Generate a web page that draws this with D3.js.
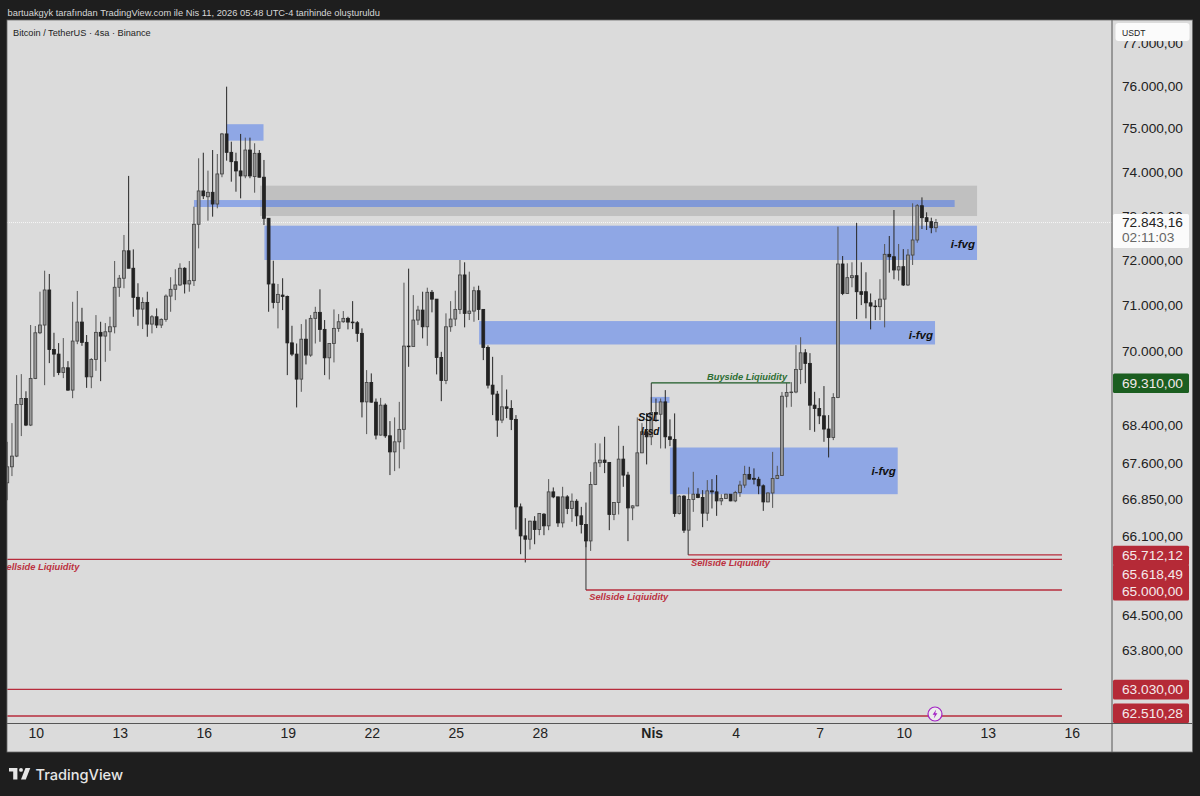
<!DOCTYPE html>
<html lang="tr">
<head>
<meta charset="utf-8">
<title>Bitcoin / TetherUS</title>
<script src="https://cdn.jsdelivr.net/npm/d3@7"></script>
<style>
  html, body { margin: 0; padding: 0; background: #1e1e1e; }
  svg { display: block; }
  text { font-family: "Liberation Sans", Arial, sans-serif; }
  .axis path, .axis line { display: none; }
</style>
</head>
<body>
<svg id="chart" width="1200" height="796"></svg>
<script>
// Four-hour BTC/USDT bars, oldest first; the first bar opens on 9 March 2026.
const firstBarTime = Date.UTC(2026, 2, 9);
const opens = [
  67197,67531,67755,68849,68976,68410,69407,70396,70565,71336,
  70033,69932,69536,69636,69156,70215,70630,70187,69441,69817,
  70405,70324,70418,70527,71396,71596,72208,71818,71174,70915,
  71062,70586,70746,70565,70689,71201,71351,71447,71818,71469,
  71543,72804,73560,73428,73529,73263,73949,74872,74446,74231,
  74018,73904,74499,73888,74423,73874,72939,71469,71062,71223,
  71194,70176,69932,69392,70256,69910,70711,70843,70470,69852,
  70163,70492,70637,70711,70630,70615,70383,68904,69320,68898,
  68198,68834,68183,67844,68056,68319,70106,70098,70674,70893,
  70527,71285,71134,69860,69364,70527,70696,70908,71669,70821,
  70871,71320,70908,70077,69262,69070,68516,68798,68764,68531,
  66697,66100,66032,66402,66231,66546,66306,67008,66904,66367,
  66904,66664,66814,66512,66334,65997,67163,67615,67671,67623,
  66540,66788,67692,67358,66676,66718,67824,68268,68162,68679,
  68640,68904,68162,68107,66561,66919,66217,66849,66960,66891,
  66567,67029,67008,66821,66870,66960,66821,66996,67149,67372,
  67290,67270,67134,66800,66985,67288,67351,69025,69104,69115,
  69601,69960,69731,68834,68764,68607,68326,68149,68997,71913,
  71259,71609,71653,71298,71298,71053,70981,70968,71134,72129,
  72075,71780,71853,71447,72113,72450,73224,72953,72863,72727
];
const highs = [
  68056,68452,69478,69500,69131,70566,70543,71298,71764,71691,
  70396,70171,70281,69780,71075,71314,70943,70347,69845,70783,
  70637,70608,70746,71980,71669,72563,73904,72240,71485,71174,
  71298,70783,70930,70711,71239,71618,71796,71929,71840,71980,
  73202,74309,74437,74025,74499,74407,74895,75977,74692,74437,
  74872,74786,74786,74655,74499,74270,72946,71986,71469,71596,
  71212,70549,70163,70586,70689,70783,70965,71351,70674,70171,
  70908,70805,70871,70746,71090,70652,70492,69586,69515,68976,
  68989,68870,68495,68573,68904,71498,71809,71223,70987,71298,
  71387,71336,71134,69981,70821,71090,71320,72002,71951,71742,
  71409,71431,70915,70121,69873,69139,69478,69169,68940,68622,
  66767,66464,66413,66505,66567,66567,67274,67100,66908,67113,
  66940,66975,66856,66697,66788,67426,68028,68022,68162,67629,
  66794,68395,67971,67426,66732,68573,68452,68664,69004,68976,
  68976,69156,68531,68658,66940,66940,67100,67426,67086,67045,
  67253,67274,67358,66960,66971,66960,67029,67238,67552,67531,
  67498,67322,67163,67000,67844,67552,69116,69306,69327,70126,
  70299,70040,69953,69119,68983,69242,68622,69090,72750,72091,
  71929,71951,72836,71951,71729,71259,71112,71574,72360,72540,
  73127,72360,72246,72246,73279,73263,73414,73075,72953,72924
];
const lows = [
  66835,67337,67734,68177,68389,68389,69392,70367,69262,69737,
  69441,69478,69413,69141,68983,70148,70112,69204,69197,69571,
  69348,69765,70003,70383,71185,71374,71818,70746,70549,70477,
  70309,70383,70499,70499,70637,70856,71112,71425,71259,71298,
  71425,72262,73376,72885,72976,73165,73874,74254,73772,73543,
  73392,73851,73851,73520,73870,72788,70856,70930,70492,70893,
  69478,69888,68785,69119,69709,69873,70163,70199,69478,69385,
  69752,70418,70615,70470,70477,70199,68573,68219,68887,68107,
  68187,68140,67358,67441,67498,67901,69657,70106,70565,70274,
  70112,70843,69493,68919,69284,70418,70543,70805,70514,70674,
  70637,70674,69802,69191,68622,68162,68452,68558,68304,66231,
  65726,65558,65821,65929,66114,66114,66217,66877,66285,66273,
  66547,66388,66299,66149,65868,65793,67149,67525,67399,66217,
  66423,66540,67113,65992,66423,66711,67817,67581,67986,68480,
  67916,67916,67965,66491,66540,66161,66207,66594,66877,66279,
  66409,66664,66512,66732,66866,66814,66794,66904,67092,67263,
  67163,66960,66615,66794,66676,67274,67347,68785,68798,69089,
  69284,69305,68304,68268,68431,68056,67727,68092,68983,71223,
  71254,71396,70696,71003,70711,70470,70674,70674,70514,71720,
  71574,71543,71425,71425,71891,72389,72697,72675,72602,72625
];
const closes = [
  67531,67755,68849,68976,68410,69407,70396,70565,71336,70033,
  69932,69536,69636,69156,70215,70630,70187,69441,69817,70405,
  70324,70418,70527,71396,71596,72208,71818,71174,70915,71062,
  70586,70746,70565,70689,71201,71351,71447,71818,71469,71543,
  72804,73560,73450,73529,73263,73949,74872,74446,74231,74018,
  73904,74499,73904,74423,73874,72939,71469,71062,71239,71194,
  70176,69932,69392,70256,69910,70711,70843,70470,69852,70163,
  70492,70637,70711,70630,70615,70383,68904,69320,68898,68198,
  68834,68183,67844,68056,68319,70106,70098,70674,70893,70527,
  71285,71134,69860,69364,70527,70696,70908,71669,70821,70871,
  71320,70908,70077,69262,69070,68516,68798,68764,68531,66697,
  66100,66032,66402,66231,66561,66306,67008,66904,66367,66904,
  66664,66814,66512,66334,65997,67163,67615,67671,67623,66540,
  66788,67692,67358,66676,66718,67824,68268,68162,68679,68640,
  68904,68162,68107,66561,66919,66217,66849,66960,66891,66567,
  67029,67008,66821,66870,66960,66821,66996,67149,67372,67274,
  67270,67134,66800,66985,67288,67351,69025,69104,69115,69601,
  69960,69731,68834,68764,68607,68326,68149,68997,71913,71259,
  71609,71653,71298,71240,71053,70981,70968,71134,72129,72075,
  71780,71853,71447,72113,72450,73224,72953,72863,72727,72843.16
];

// Axis labels
const priceTicks = [77000,76000,75000,74000,73000,72000,71000,70000,68400,67600,66850,66100,64500,63800];
const dayTickTimes = [[2,10],[2,13],[2,16],[2,19],[2,22],[2,25],[2,28],[3,1],[3,4],[3,7],[3,10],[3,13],[3,16]];
const dayTickLabels = ["10","13","16","19","22","25","28","Nis","4","7","10","13","16"];

// Price zones: bar offsets from the first bar, and their price limits
const zoneNames  = ["range","fvg top","fvg wide","fvg peak","fvg mid","fvg tiny","fvg low"];
const zoneStart  = [54.15, 40, 47, 55.1, 101.1, 137.9, 142];
const zoneEnd    = [207.8, 203, 54.9, 207.8, 198.8, 141.9, 190.8];
const zoneTop    = [73681, 73353, 75098, 72772, 70652, 69010, 67936];
const zoneBottom = [72991, 73195, 74716, 72002, 70141, 68883, 66960];

// Horizontal liquidity levels
const levelPrices = [65712.12, 65618.49, 65000, 63030, 62510.28];
const levelStart  = [145.9, 0, 124, 0, 0];
const levelsEnd   = 226;
const buysidePrice = 69310;
const buysideSpan  = [138, 167.8];

const lastPrice = 72843.16;
const countdown = "02:11:03";

const priceFormat = d3.formatLocale({ decimal: ",", thousands: ".", grouping: [3], currency: ["", ""] }).format(",.2f");

const pane = { left: 7, right: 1112, top: 20, bottom: 723.5 };
const frame = { right: 1192.5, bottom: 752 };
const BAR_MS = 4 * 3600 * 1000;
const barTime = n => new Date(firstBarTime + n * BAR_MS);

const x = d3.scaleUtc()
  .domain([Date.UTC(2026, 2, 10), Date.UTC(2026, 3, 16)])
  .range([35.3, 1071.29]);
const y = d3.scaleLog().domain([76000, 62510.28]).range([85.7, 716]);

const svg = d3.select("#chart");

// Backgrounds
svg.append("rect").attr("width", 1200).attr("height", 796).attr("fill", "#1e1e1e");
svg.append("rect").attr("x", pane.left).attr("y", pane.top)
  .attr("width", frame.right - pane.left).attr("height", frame.bottom - pane.top).attr("fill", "#dbdbdb");

svg.append("defs").append("clipPath").attr("id", "pane-clip").append("rect")
  .attr("x", pane.left).attr("y", pane.top)
  .attr("width", pane.right - pane.left).attr("height", pane.bottom - pane.top);

const plot = svg.append("g").attr("clip-path", "url(#pane-clip)");

// Last price dotted line
plot.append("line")
  .attr("x1", pane.left).attr("x2", pane.right)
  .attr("y1", y(lastPrice)).attr("y2", y(lastPrice))
  .attr("stroke", "#f6f6f6").attr("stroke-dasharray", "1 1");

// Zones
plot.selectAll("rect.zone").data(zoneNames).join("rect")
  .attr("class", "zone")
  .attr("x", (d, i) => x(barTime(zoneStart[i])))
  .attr("width", (d, i) => x(barTime(zoneEnd[i])) - x(barTime(zoneStart[i])))
  .attr("y", (d, i) => y(zoneTop[i]))
  .attr("height", (d, i) => y(zoneBottom[i]) - y(zoneTop[i]))
  .attr("fill", (d, i) => i === 0 ? "#9f9f9f" : "#3a6df0")
  .attr("fill-opacity", (d, i) => i === 0 ? 0.45 : 0.47);

// Candles
const bars = d3.range(opens.length);
const isUp = i => closes[i] >= opens[i];
const candle = plot.selectAll("g.bar").data(bars).join("g").attr("class", "bar");
candle.append("line")
  .attr("x1", i => x(barTime(i))).attr("x2", i => x(barTime(i)))
  .attr("y1", i => y(highs[i])).attr("y2", i => y(lows[i]))
  .attr("stroke", i => isUp(i) ? "#555555" : "#262626").attr("stroke-width", 1);
candle.append("rect")
  .attr("x", i => x(barTime(i)) - 1.4)
  .attr("width", 2.8)
  .attr("y", i => y(Math.max(opens[i], closes[i])))
  .attr("height", i => Math.max(0.6, Math.abs(y(opens[i]) - y(closes[i]))))
  .attr("fill", i => isUp(i) ? "#999999" : "#222222")
  .attr("stroke", i => isUp(i) ? "#454545" : "#222222")
  .attr("stroke-width", 0.85);

// Liquidity levels
const red = "#b72c3c";
plot.selectAll("line.level").data(levelPrices).join("line")
  .attr("class", "level")
  .attr("x1", (d, i) => x(barTime(levelStart[i])))
  .attr("x2", x(barTime(levelsEnd)))
  .attr("y1", d => y(d)).attr("y2", d => y(d))
  .attr("stroke", red).attr("stroke-width", 1.3);

// Stems joining swing lows and the buyside high to their levels
const stemBar = [145.9, 124, 138];
const stemFrom = [66207, 65997, 68700];
const stemTo = [65712.12, 65000, 69310];
plot.selectAll("line.stem").data(stemBar).join("line")
  .attr("class", "stem")
  .attr("x1", d => x(barTime(d))).attr("x2", d => x(barTime(d)))
  .attr("y1", (d, i) => y(stemFrom[i])).attr("y2", (d, i) => y(stemTo[i]))
  .attr("stroke", "#333").attr("stroke-width", 1);

plot.append("line")
  .attr("x1", x(barTime(buysideSpan[0]))).attr("x2", x(barTime(buysideSpan[1])))
  .attr("y1", y(buysidePrice)).attr("y2", y(buysidePrice))
  .attr("stroke", "#1c5a26").attr("stroke-width", 1.2);

// Drawing annotations
const noteStyle = (sel, size, color) => sel
  .attr("font-size", size).attr("font-weight", 700).attr("font-style", "italic").attr("fill", color);

const sellNotes = [["Sellside Liqiuidity", -1.5, 65618.49, 11], ["Sellside Liqiuidity", 146.5, 65712.12, 11.5], ["Sellside Liqiuidity", 124.7, 65000, 10]];
sellNotes.forEach(([t, b, p, dy]) => {
  plot.append("text").text(t)
    .attr("x", x(barTime(b)))
    .attr("y", y(p) + dy)
    .call(noteStyle, 9.3, "#bc3140");
});
plot.append("text").text("Buyside Liqiuidity")
  .attr("x", 707).attr("y", y(buysidePrice) - 3).call(noteStyle, 9.3, "#2d6e33");

const fvgNotes = [[207.8, 72270], [198.8, 70270], [190.8, 67360]];
fvgNotes.forEach(([b, p]) => {
  plot.append("text").text("i-fvg")
    .attr("x", x(barTime(b)) - 2).attr("y", y(p)).attr("text-anchor", "end")
    .call(noteStyle, 11.5, "#111");
});
plot.append("text").text("SSL").attr("x", 638).attr("y", 421).call(noteStyle, 11, "#111");
plot.append("text").text("lrsd").attr("x", 641).attr("y", 435).call(noteStyle, 10, "#111");

// Panel separators
svg.append("line").attr("x1", pane.right).attr("x2", pane.right).attr("y1", pane.top).attr("y2", frame.bottom)
  .attr("stroke", "#555").attr("stroke-width", 1);
svg.append("line").attr("x1", pane.left).attr("x2", frame.right).attr("y1", pane.bottom).attr("y2", pane.bottom)
  .attr("stroke", "#555").attr("stroke-width", 1);
svg.append("rect").attr("x", pane.left).attr("y", pane.top)
  .attr("width", frame.right - pane.left).attr("height", frame.bottom - pane.top)
  .attr("fill", "none").attr("stroke", "#6a6a6a").attr("stroke-width", 0.8);

// Time axis
const timeAxis = d3.axisBottom(x)
  .tickValues(dayTickTimes.map(([m, d]) => new Date(Date.UTC(2026, m, d))))
  .tickFormat((d, i) => dayTickLabels[i])
  .tickSize(0).tickPadding(5);
const timeG = svg.append("g").attr("class", "axis")
  .attr("transform", `translate(0.4,${pane.bottom})`).call(timeAxis);
timeG.selectAll("text").attr("font-size", 14).attr("fill", "#222")
  .attr("font-weight", (d, i) => dayTickLabels[i] === "Nis" ? 700 : 400);

// Price axis
const priceAxis = d3.axisRight(y).tickValues(priceTicks).tickFormat(priceFormat).tickSize(0).tickPadding(0);
const priceG = svg.append("g").attr("class", "axis")
  .attr("transform", "translate(1122,0)").call(priceAxis);
priceG.selectAll("text").attr("font-size", 13.7).attr("fill", "#222");

// Price tags on the axis; stacked tags are nudged apart so their text stays legible
const tagPrices = [69310, 65712.12, 65618.49, 65000, 63030, 62510.28];
const tagNudge = [0, 0.5, 14.6, 0.5, 0, -3];
const tagFill = p => p === buysidePrice ? "#1b5e20" : "#b52a37";
tagPrices.forEach((p, i) => {
  const cy = y(p) + tagNudge[i];
  svg.append("rect").attr("x", 1113).attr("y", cy - 9.5).attr("width", 76).attr("height", 19.6)
    .attr("rx", 1.5).attr("fill", tagFill(p));
  svg.append("text").text(priceFormat(p)).attr("x", 1122).attr("y", cy + 5)
    .attr("font-size", 13.7).attr("fill", "#f4e9ea");
});

// Last price tag with countdown
svg.append("rect").attr("x", 1113).attr("y", 214).attr("width", 76).attr("height", 34).attr("rx", 1.5).attr("fill", "#fbfbfb");
svg.append("text").text(priceFormat(lastPrice)).attr("x", 1122).attr("y", 226.5).attr("font-size", 13.7).attr("fill", "#222");
svg.append("text").text(countdown).attr("x", 1122).attr("y", 242).attr("font-size", 13.7).attr("fill", "#666");

// Currency tag
svg.append("rect").attr("x", 1115.5).attr("y", 23).attr("width", 74).attr("height", 18).attr("rx", 3).attr("fill", "#fbfbfb");
svg.append("text").text("USDT").attr("x", 1122).attr("y", 35.5).attr("font-size", 8.6).attr("fill", "#222");

// Headings
svg.append("text").text("bartuakgyk tarafından TradingView.com ile Nis 11, 2026 05:48 UTC-4 tarihinde oluşturuldu")
  .attr("x", 7.5).attr("y", 16).attr("font-size", 9.33).attr("fill", "#d6d6d6");
svg.append("text").text("Bitcoin / TetherUS · 4sa · Binance")
  .attr("x", 13).attr("y", 36).attr("font-size", 9.2).attr("fill", "#222");

// Lightning badge
const badge = svg.append("g").attr("transform", "translate(935,714)");
badge.append("circle").attr("r", 7).attr("fill", "#ececec").attr("stroke", "#a322c4").attr("stroke-width", 1.2);
badge.append("path").attr("d", "M1.2 -4.4 L-2.4 0.8 L-0.2 0.8 L-1.2 4.4 L2.4 -0.8 L0.2 -0.8 Z").attr("fill", "#a322c4");

// Brand mark
const mark = svg.append("g").attr("transform", "translate(9,768) scale(0.6)").attr("fill", "#e6e6e6");
mark.append("path").attr("d", "M14 0H0v6h7v13h7z");
mark.append("circle").attr("cx", 20).attr("cy", 3.2).attr("r", 3.2);
mark.append("path").attr("d", "M28 19h-8l7.5-19H35.5z");
svg.append("text").text("TradingView").attr("x", 35.5).attr("y", 779.5)
  .style("font-family", "Inter, sans-serif")
  .attr("font-size", 14.6).attr("font-weight", 500).attr("fill", "#e6e6e6");
</script>
</body>
</html>
